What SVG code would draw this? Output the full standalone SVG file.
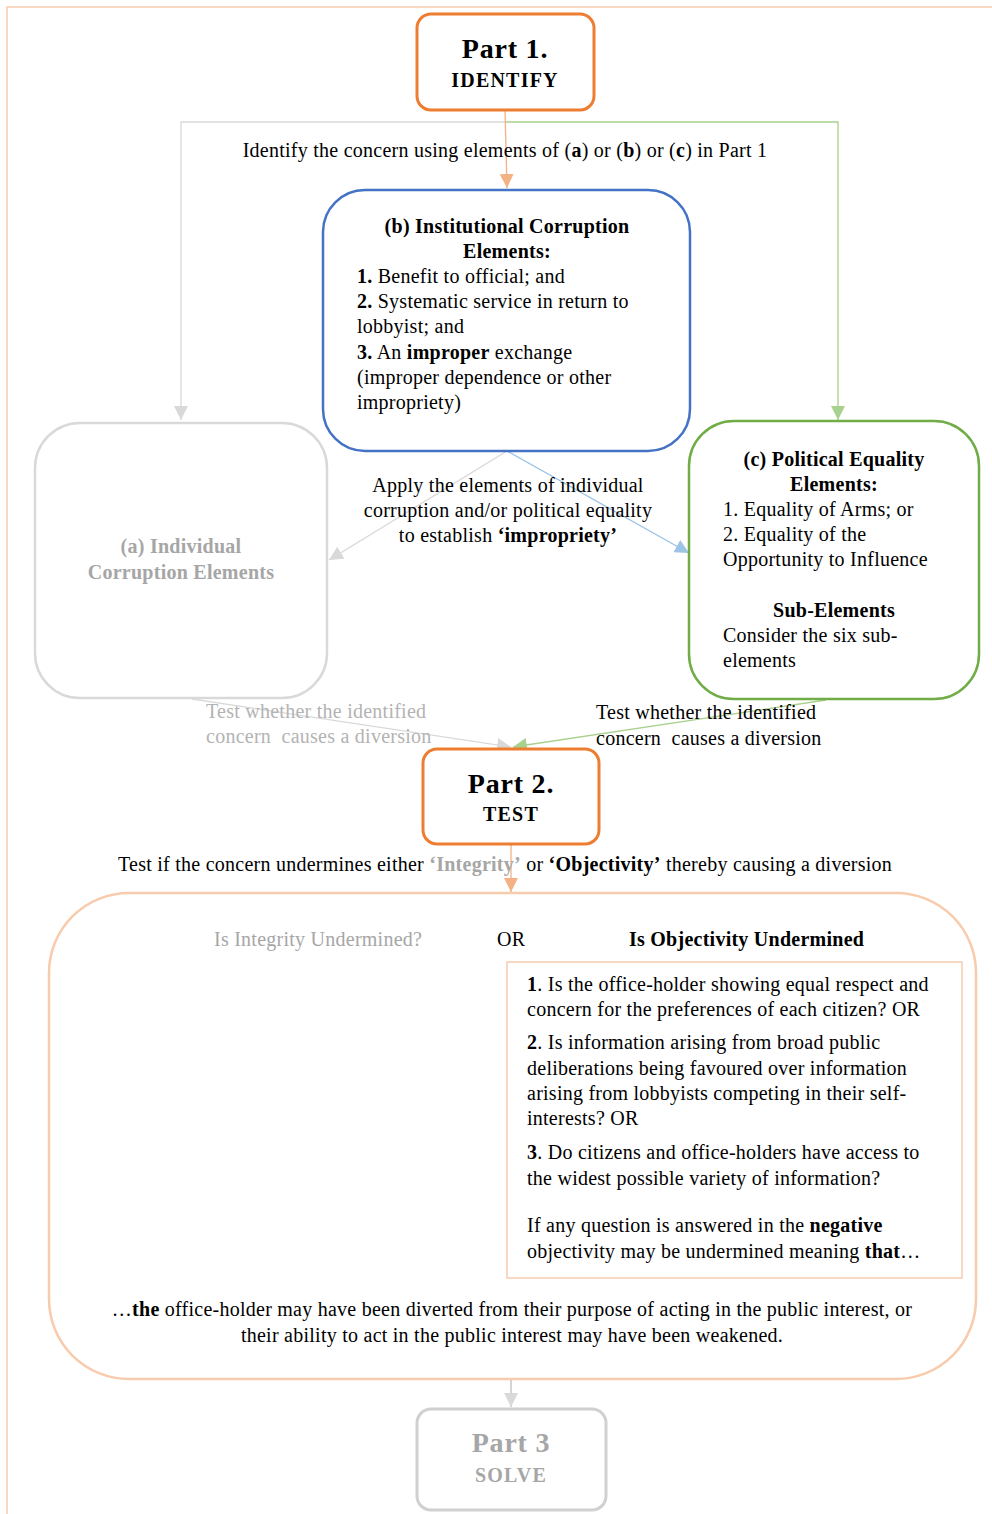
<svg xmlns="http://www.w3.org/2000/svg" width="992" height="1514" viewBox="0 0 992 1514">
  <defs>
    <style>
      text { font-family: "Liberation Serif", "DejaVu Serif", serif; font-size: 20px; letter-spacing: 0.25px; fill: #000; }
      .c { text-anchor: middle; }
      .b { font-weight: bold; }
      .g { fill: #a6a6a6; }
      .gl { fill: #b3b3b3; }
      .part { font-size: 28px; font-weight: bold; letter-spacing: 0.8px; }
      .sub { font-size: 20px; font-weight: bold; letter-spacing: 1.2px; }
      .node { fill: #fff; }
      .wire { fill: none; stroke-width: 1.3; }
    </style>
    <marker id="ah-orange" viewBox="0 0 10 10" refX="10" refY="5" markerWidth="14" markerHeight="14" markerUnits="userSpaceOnUse" orient="auto">
      <path d="M0,0 L10,5 L0,10 z" fill="#f4b183"/>
    </marker>
    <marker id="ah-grey" viewBox="0 0 10 10" refX="10" refY="5" markerWidth="14" markerHeight="14" markerUnits="userSpaceOnUse" orient="auto">
      <path d="M0,0 L10,5 L0,10 z" fill="#d9d9d9"/>
    </marker>
    <marker id="ah-green" viewBox="0 0 10 10" refX="10" refY="5" markerWidth="14" markerHeight="14" markerUnits="userSpaceOnUse" orient="auto">
      <path d="M0,0 L10,5 L0,10 z" fill="#a9d18e"/>
    </marker>
    <marker id="ah-blue" viewBox="0 0 10 10" refX="10" refY="5" markerWidth="14" markerHeight="14" markerUnits="userSpaceOnUse" orient="auto">
      <path d="M0,0 L10,5 L0,10 z" fill="#9dc3e6"/>
    </marker>
  </defs>

  <rect width="992" height="1514" fill="#fff"/>

  <!-- page frame -->
  <path d="M7,1514 V7 H992" fill="none" stroke="#f8cbad" stroke-width="1.5"/>

  <!-- connectors -->
  <g id="connectors">
    <path class="wire" d="M505,122 H181 V420" stroke="#d9d9d9" marker-end="url(#ah-grey)"/>
    <path class="wire" d="M505,122 H838 V420" stroke="#a9d18e" marker-end="url(#ah-green)"/>
    <path class="wire" d="M505,110 L507,188" stroke="#f4b183" marker-end="url(#ah-orange)"/>
    <path class="wire" d="M507,451 L329,560" stroke="#d9d9d9" stroke-width="2" marker-end="url(#ah-grey)"/>
    <path class="wire" d="M507,451 L689,553" stroke="#9dc3e6" marker-end="url(#ah-blue)"/>
    <path class="wire" d="M192,699 L511,747" stroke="#d9d9d9" marker-end="url(#ah-grey)"/>
    <path class="wire" d="M826,700 L513,747" stroke="#a9d18e" marker-end="url(#ah-green)"/>
    <path class="wire" d="M511,844 V892" stroke="#f4b183" marker-end="url(#ah-orange)"/>
    <path class="wire" d="M511,1380 V1407" stroke="#bfbfbf" marker-end="url(#ah-grey)"/>
  </g>

  <!-- connector labels -->
  <g id="labels">
    <text class="c" x="505" y="157">Identify the concern using elements of (<tspan class="b">a</tspan>) or (<tspan class="b">b</tspan>) or (<tspan class="b">c</tspan>) in Part 1</text>
    <text class="c" x="508" y="492">Apply the elements of individual</text>
    <text class="c" x="508" y="517">corruption and/or political equality</text>
    <text class="c" x="508" y="542">to establish <tspan class="b">‘impropriety’</tspan></text>
    <text class="gl" x="206" y="718">Test whether the identified</text>
    <text class="gl" x="206" y="743">concern&#160; causes a diversion</text>
    <text x="596" y="719">Test whether the identified</text>
    <text x="596" y="745">concern&#160; causes a diversion</text>
    <text class="c" x="505" y="871">Test if the concern undermines either <tspan class="b g">‘Integrity’</tspan> or <tspan class="b">‘Objectivity’</tspan> thereby causing a diversion</text>
  </g>

  <!-- Part 1 -->
  <g id="part1">
    <rect class="node" x="417" y="14" width="177" height="96" rx="14" stroke="#ed7d31" stroke-width="3"/>
    <text class="c part" x="505" y="58">Part 1.</text>
    <text class="c sub" x="505" y="87">IDENTIFY</text>
  </g>

  <!-- (b) Institutional corruption -->
  <g id="node-b">
    <rect class="node" x="323" y="190" width="367" height="261" rx="42" stroke="#4472c4" stroke-width="2.5"/>
    <text class="c b" x="507" y="233">(b) Institutional Corruption</text>
    <text class="c b" x="507" y="258">Elements:</text>
    <text x="357" y="283"><tspan class="b">1.</tspan> Benefit to official; and</text>
    <text x="357" y="308"><tspan class="b">2.</tspan> Systematic service in return to</text>
    <text x="357" y="333">lobbyist; and</text>
    <text x="357" y="359"><tspan class="b">3.</tspan> An <tspan class="b">improper</tspan> exchange</text>
    <text x="357" y="384">(improper dependence or other</text>
    <text x="357" y="409">impropriety)</text>
  </g>

  <!-- (a) Individual corruption -->
  <g id="node-a">
    <rect class="node" x="35" y="423" width="292" height="275" rx="45" stroke="#d9d9d9" stroke-width="2.5"/>
    <text class="c b g" x="181" y="553">(a) Individual</text>
    <text class="c b g" x="181" y="579">Corruption Elements</text>
  </g>

  <!-- (c) Political equality -->
  <g id="node-c">
    <rect class="node" x="689" y="421" width="290" height="278" rx="45" stroke="#70ad47" stroke-width="2.5"/>
    <text class="c b" x="834" y="466">(c) Political Equality</text>
    <text class="c b" x="834" y="491">Elements:</text>
    <text x="723" y="516">1. Equality of Arms; or</text>
    <text x="723" y="541">2. Equality of the</text>
    <text x="723" y="566">Opportunity to Influence</text>
    <text class="c b" x="834" y="617">Sub-Elements</text>
    <text x="723" y="642">Consider the six sub-</text>
    <text x="723" y="667">elements</text>
  </g>

  <!-- Part 2 -->
  <g id="part2">
    <rect class="node" x="423" y="749" width="176" height="95" rx="14" stroke="#ed7d31" stroke-width="3"/>
    <text class="c part" x="511" y="793">Part 2.</text>
    <text class="c sub" x="511" y="821">TEST</text>
  </g>

  <!-- Test panel -->
  <g id="test-panel">
    <rect class="node" x="49" y="893" width="927" height="486" rx="80" stroke="#f8cbad" stroke-width="2.5"/>
    <text class="g" x="214" y="946">Is Integrity Undermined?</text>
    <text x="497" y="946">OR</text>
    <text class="b" x="629" y="946">Is Objectivity Undermined</text>
    <rect x="507" y="962" width="455" height="316" fill="#fff" stroke="#f8cbad" stroke-width="1.5"/>
    <text x="527" y="991"><tspan class="b">1</tspan>. Is the office-holder showing equal respect and</text>
    <text x="527" y="1016">concern for the preferences of each citizen? OR</text>
    <text x="527" y="1049"><tspan class="b">2</tspan>. Is information arising from broad public</text>
    <text x="527" y="1075">deliberations being favoured over information</text>
    <text x="527" y="1100">arising from lobbyists competing in their self-</text>
    <text x="527" y="1125">interests? OR</text>
    <text x="527" y="1159"><tspan class="b">3</tspan>. Do citizens and office-holders have access to</text>
    <text x="527" y="1185">the widest possible variety of information?</text>
    <text x="527" y="1232">If any question is answered in the <tspan class="b">negative</tspan></text>
    <text x="527" y="1258">objectivity may be undermined meaning <tspan class="b">that</tspan>…</text>
    <text class="c" x="512" y="1316">…<tspan class="b">the</tspan> office-holder may have been diverted from their purpose of acting in the public interest, or</text>
    <text class="c" x="512" y="1342">their ability to act in the public interest may have been weakened.</text>
  </g>

  <!-- Part 3 -->
  <g id="part3">
    <rect class="node" x="417" y="1409" width="189" height="101" rx="14" stroke="#d0d0d0" stroke-width="3"/>
    <text class="c part g" x="511" y="1452">Part 3</text>
    <text class="c sub g" x="511" y="1482">SOLVE</text>
  </g>
</svg>
